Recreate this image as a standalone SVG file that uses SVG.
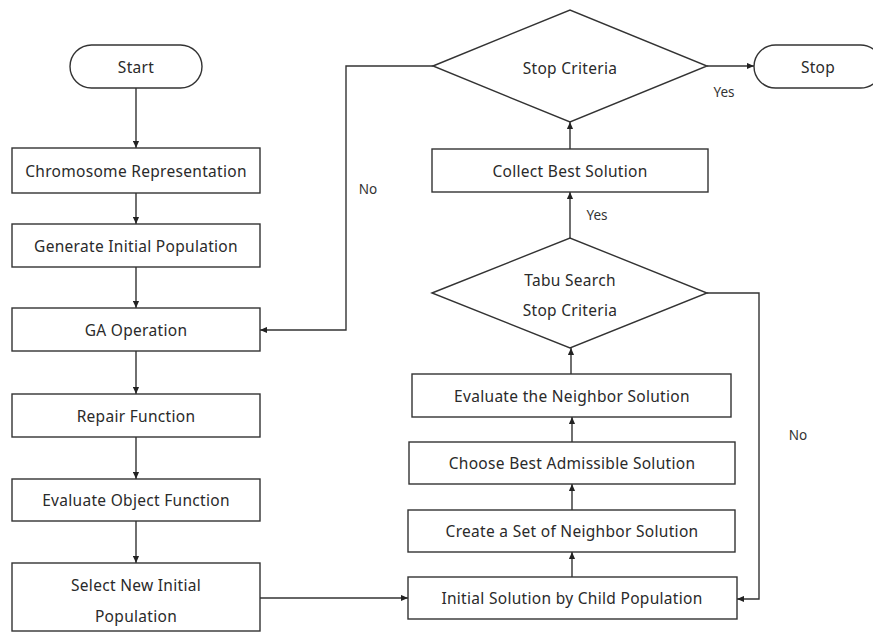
<svg xmlns="http://www.w3.org/2000/svg" width="873" height="633" viewBox="0 0 873 633">
<defs>
<style>
.n{fill:#fff;stroke:#333;stroke-width:1.4}
.t{font-family:"Noto Sans","Open Sans",sans-serif;font-size:15.5px;letter-spacing:0.3px;fill:#2a2a2a;text-anchor:middle;dominant-baseline:central}
.l{font-family:"Noto Sans","Open Sans",sans-serif;font-size:13.5px;fill:#333;text-anchor:middle;dominant-baseline:central}
.c{fill:none;stroke:#333;stroke-width:1.4}
</style>
<marker id="a" viewBox="0 0 8 8" refX="8" refY="4" markerWidth="7" markerHeight="7" markerUnits="userSpaceOnUse" orient="auto">
<path d="M0,0.5 L8,4 L0,7.5 Z" fill="#222"/>
</marker>
</defs>
<rect width="873" height="633" fill="#fff"/>
<g id="connectors">
<path class="c" d="M136,88 V148" marker-end="url(#a)"/>
<path class="c" d="M136,193 V224" marker-end="url(#a)"/>
<path class="c" d="M136,267 V308" marker-end="url(#a)"/>
<path class="c" d="M136,351 V394" marker-end="url(#a)"/>
<path class="c" d="M136,437 V479" marker-end="url(#a)"/>
<path class="c" d="M136,521 V563" marker-end="url(#a)"/>
<path class="c" d="M260,598 H408" marker-end="url(#a)"/>
<path class="c" d="M572,577 V552" marker-end="url(#a)"/>
<path class="c" d="M572,510 V484" marker-end="url(#a)"/>
<path class="c" d="M572,442 V417" marker-end="url(#a)"/>
<path class="c" d="M571,374 V348" marker-end="url(#a)"/>
<path class="c" d="M707,293 H759 V599 H737" marker-end="url(#a)"/>
<path class="c" d="M570,238 V192" marker-end="url(#a)"/>
<path class="c" d="M570,149 V122" marker-end="url(#a)"/>
<path class="c" d="M707,66 H754" marker-end="url(#a)"/>
<path class="c" d="M433,66 H346 V330 H260" marker-end="url(#a)"/>
<text class="l" x="368" y="189">No</text>
<text class="l" x="724" y="92">Yes</text>
<text class="l" x="597" y="215">Yes</text>
<text class="l" x="798" y="435">No</text>
</g>
<g id="start"><rect class="n" x="70" y="45" width="132" height="43" rx="21.5"/><text class="t" x="136" y="67">Start</text></g>
<g id="chromosome"><rect class="n" x="12" y="148" width="248" height="45"/><text class="t" x="136" y="171">Chromosome Representation</text></g>
<g id="generate"><rect class="n" x="12" y="224" width="248" height="43"/><text class="t" x="136" y="245.5">Generate Initial Population</text></g>
<g id="ga"><rect class="n" x="12" y="308" width="248" height="43"/><text class="t" x="136" y="329.5">GA Operation</text></g>
<g id="repair"><rect class="n" x="12" y="394" width="248" height="43"/><text class="t" x="136" y="415.5">Repair Function</text></g>
<g id="evalobj"><rect class="n" x="12" y="479" width="248" height="42"/><text class="t" x="136" y="500">Evaluate Object Function</text></g>
<g id="select"><rect class="n" x="12" y="563" width="248" height="68"/><text class="t" x="136" y="585">Select New Initial</text><text class="t" x="136" y="616">Population</text></g>
<g id="stopcrit"><polygon class="n" points="433,66 570,10 707,66 570,122"/><text class="t" x="570" y="68">Stop Criteria</text></g>
<g id="stop"><rect class="n" x="754" y="45" width="128" height="43" rx="21.5"/><text class="t" x="818" y="67">Stop</text></g>
<g id="collect"><rect class="n" x="432" y="149" width="276" height="43"/><text class="t" x="570" y="170.5">Collect Best Solution</text></g>
<g id="tabu"><polygon class="n" points="432,293 570,238 707,293 570,348"/><text class="t" x="570" y="280">Tabu Search</text><text class="t" x="570" y="310">Stop Criteria</text></g>
<g id="evalnb"><rect class="n" x="412" y="374" width="319" height="43"/><text class="t" x="572" y="395.5">Evaluate the Neighbor Solution</text></g>
<g id="choose"><rect class="n" x="409" y="442" width="326" height="42"/><text class="t" x="572" y="463">Choose Best Admissible Solution</text></g>
<g id="create"><rect class="n" x="408" y="510" width="327" height="42"/><text class="t" x="572" y="531">Create a Set of Neighbor Solution</text></g>
<g id="initial"><rect class="n" x="408" y="577" width="329" height="42"/><text class="t" x="572" y="598">Initial Solution by Child Population</text></g>
</svg>
